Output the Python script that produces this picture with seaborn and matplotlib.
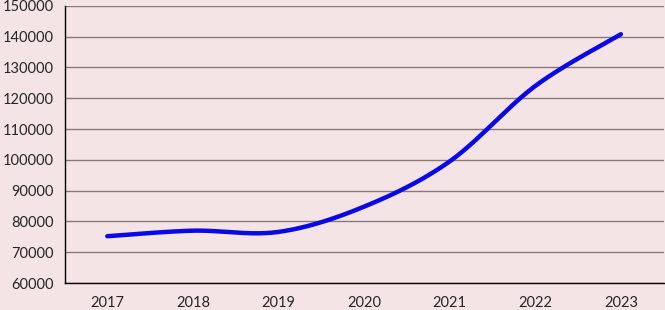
import numpy as np
import matplotlib
matplotlib.use('Agg')
import matplotlib.pyplot as plt
import seaborn as sns

years = ['2017', '2018', '2019', '2020', '2021', '2022', '2023']
values = [75200, 77000, 76600, 84800, 99500, 124000, 140800]
y_ticks = list(range(60000, 150001, 10000))

bg = '#F5E4E6'
sns.set_style('white')
plt.rcParams['font.family'] = ['Lato', 'DejaVu Sans']


def smooth(x, y, n=40):
    # Excel-like smoothed line: Catmull-Rom Bezier between points
    x = np.asarray(x, float)
    y = np.asarray(y, float)
    xs, ys = [], []
    for i in range(len(x) - 1):
        p0 = np.array([x[max(i - 1, 0)], y[max(i - 1, 0)]])
        p1 = np.array([x[i], y[i]])
        p2 = np.array([x[i + 1], y[i + 1]])
        p3 = np.array([x[min(i + 2, len(x) - 1)], y[min(i + 2, len(x) - 1)]])
        c1 = p1 + (p2 - p0) / 6
        c2 = p2 - (p3 - p1) / 6
        t = np.linspace(0, 1, n)[:, None]
        pts = ((1 - t) ** 3) * p1 + 3 * ((1 - t) ** 2) * t * c1 + 3 * (1 - t) * t ** 2 * c2 + t ** 3 * p2
        xs.extend(pts[:, 0])
        ys.extend(pts[:, 1])
    return np.array(xs), np.array(ys)


fig, ax = plt.subplots(figsize=(6.65, 3.1), dpi=100)
fig.patch.set_facecolor(bg)
ax.set_facecolor(bg)
fig.subplots_adjust(left=0.097, right=0.998, top=0.981, bottom=0.087)

pos = np.arange(len(years))
sx, sy = smooth(pos, values)
sns.lineplot(x=sx, y=sy, ax=ax, color='#0808E8', linewidth=3.2, sort=False,
             solid_capstyle='round')

ax.set_xlim(-0.5, len(years) - 0.5)
ax.set_ylim(60000, 150000)
ax.set_yticks(y_ticks)
ax.set_yticklabels([str(v) for v in y_ticks], fontsize=10.5)
ax.set_xticks(pos)
ax.set_xticklabels(years, fontsize=10.5)
ax.set_xticks(np.arange(-0.5, len(years)), minor=True)
ax.tick_params(axis='x', which='major', length=0, pad=9)
ax.tick_params(axis='x', which='minor', length=4, width=1, color='black', direction='out')
ax.tick_params(axis='y', length=4, width=1, color='black', direction='out', pad=4)
ax.yaxis.grid(True, color='#8A7878', linewidth=1)
ax.set_axisbelow(True)

for s in ['top', 'right']:
    ax.spines[s].set_visible(False)
for s in ['left', 'bottom']:
    ax.spines[s].set_color('black')
    ax.spines[s].set_linewidth(1)
ax.set(xlabel='', ylabel='')

fig.savefig('out.png', dpi=100, facecolor=bg)
